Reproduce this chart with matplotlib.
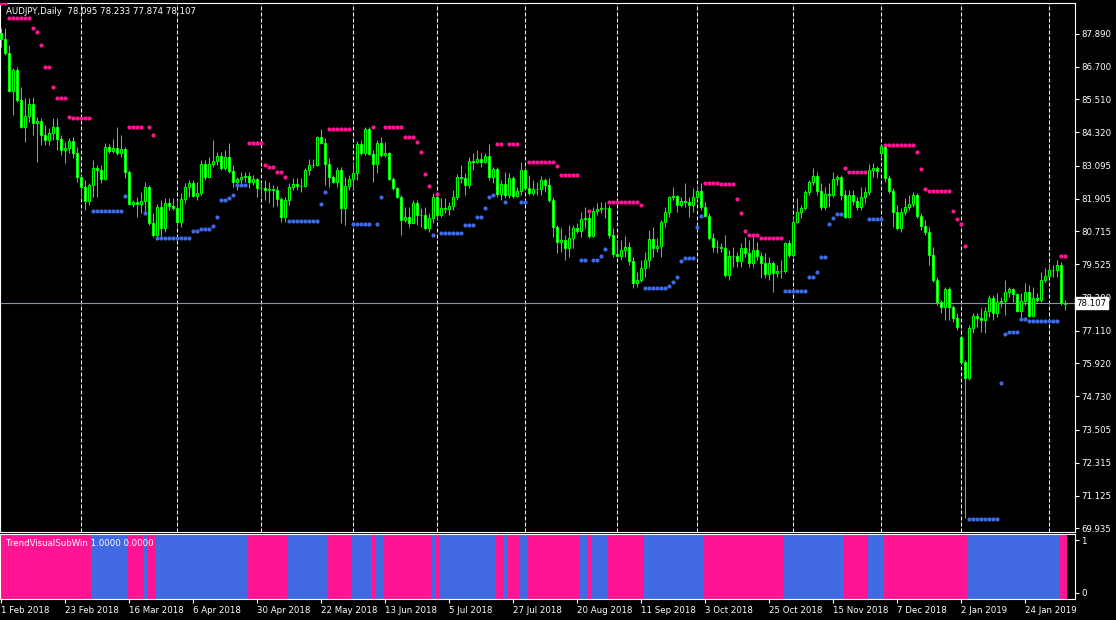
import numpy as np
import matplotlib
matplotlib.use("Agg")
import matplotlib.pyplot as plt

# AUDJPY daily, Feb 2018 - Feb 2019
TITLE = "AUDJPY,Daily  78.095 78.233 77.874 78.107"
SUBWIN_TITLE = "TrendVisualSubWin 1.0000 0.0000"

first_open = 87.92
close = [
    87.70, 87.20, 85.82, 86.58, 85.49, 84.51, 84.91, 85.35, 84.66, 84.73,
    84.22, 84.04, 84.29, 84.51, 84.07, 83.67, 83.75, 84.00, 83.57, 82.70,
    82.33, 81.82, 82.40, 83.02, 82.95, 82.62, 83.78, 83.64, 83.75, 83.57,
    83.71, 82.88, 81.71, 81.79, 81.71, 81.82, 82.33, 81.03, 80.59, 81.61,
    80.84, 81.75, 81.64, 81.57, 81.06, 81.90, 82.33, 82.48, 82.01, 82.11,
    83.17, 82.70, 83.17, 83.28, 83.46, 83.02, 83.42, 82.91, 82.51, 82.62,
    82.70, 82.73, 82.51, 82.62, 82.30, 82.29, 82.22, 82.26, 82.22, 81.90,
    81.24, 81.86, 82.33, 82.44, 82.37, 82.36, 82.95, 83.13, 83.12, 84.15,
    83.93, 83.17, 82.70, 82.51, 82.95, 81.57, 82.37, 82.62, 82.84, 83.89,
    83.57, 84.44, 83.53, 83.17, 83.93, 83.49, 83.57, 82.62, 82.30, 81.97,
    81.13, 81.24, 81.03, 81.75, 81.32, 81.31, 80.84, 81.21, 81.97, 81.32,
    81.57, 81.53, 81.64, 81.97, 82.70, 82.66, 82.40, 83.28, 83.24, 83.35,
    83.24, 83.46, 82.70, 82.99, 82.08, 82.44, 82.04, 82.66, 82.01, 82.19,
    82.95, 82.30, 82.11, 82.26, 82.25, 82.59, 82.40, 81.86, 80.88, 80.34,
    80.41, 80.12, 80.48, 80.84, 80.73, 81.17, 81.21, 80.55, 81.46, 81.53,
    81.57, 81.56, 80.59, 79.90, 79.83, 80.04, 80.15, 79.65, 78.85, 78.96,
    79.39, 79.68, 80.44, 80.12, 80.19, 81.06, 81.42, 81.97, 82.01, 81.68,
    81.82, 81.79, 81.68, 81.97, 82.19, 81.61, 81.28, 80.48, 80.15, 80.14,
    80.12, 79.14, 79.83, 79.82, 79.65, 80.12, 79.94, 79.57, 80.04, 79.83,
    79.57, 79.17, 79.57, 79.21, 79.28, 79.27, 80.30, 79.86, 81.06, 81.42,
    81.57, 82.15, 82.51, 82.73, 82.19, 81.61, 82.08, 82.04, 82.62, 82.70,
    82.04, 81.24, 82.04, 81.82, 81.61, 81.97, 82.15, 82.95, 83.02, 82.91,
    83.82, 82.66, 82.19, 81.42, 80.84, 81.42, 81.61, 81.71, 82.04, 81.28,
    80.92, 80.70, 79.86, 78.96, 78.16, 77.98, 78.63, 77.98, 77.58, 77.25,
    75.98, 75.40, 77.21, 77.65, 77.58, 77.50, 77.83, 78.30, 77.76, 78.16,
    78.19, 78.52, 78.63, 78.45, 77.83, 78.19, 78.52, 77.65, 78.30, 78.23,
    78.96, 79.10, 79.32, 79.31, 79.50, 78.10, 78.107,
]
high = [
    88.10, 88.10, 87.49, 86.65, 86.69, 85.96, 85.56, 85.56, 85.60, 84.87,
    84.84, 84.58, 84.47, 84.84, 84.84, 84.22, 83.97, 84.11, 84.15, 83.78,
    82.77, 82.59, 82.48, 83.31, 83.13, 83.13, 83.93, 83.89, 84.07, 84.51,
    84.22, 83.78, 82.95, 81.86, 81.97, 82.15, 82.51, 82.40, 81.39, 81.71,
    81.86, 81.93, 81.93, 81.93, 81.86, 82.11, 82.48, 82.59, 82.59, 82.51,
    83.31, 83.31, 83.42, 84.04, 83.60, 83.60, 83.67, 83.93, 83.13, 82.70,
    82.88, 82.88, 82.88, 82.77, 82.66, 82.51, 82.59, 82.51, 82.40, 82.37,
    81.97, 81.97, 82.48, 82.66, 82.66, 82.66, 83.02, 83.35, 83.35, 84.18,
    84.44, 84.11, 83.38, 82.77, 83.06, 83.06, 82.70, 82.77, 83.24, 84.00,
    84.04, 84.51, 84.51, 83.67, 84.04, 84.15, 83.97, 83.60, 82.70, 82.33,
    82.04, 81.61, 81.61, 81.86, 81.86, 81.57, 81.61, 81.39, 82.11, 82.04,
    81.93, 81.93, 81.79, 82.22, 82.80, 83.13, 82.84, 83.42, 83.57, 83.67,
    83.57, 83.57, 83.89, 83.06, 83.06, 82.59, 82.88, 82.84, 82.73, 82.33,
    83.24, 83.06, 82.77, 82.59, 82.51, 82.73, 82.66, 82.66, 81.97, 80.95,
    80.84, 80.59, 80.95, 80.95, 81.03, 81.42, 81.61, 81.39, 81.61, 81.75,
    81.79, 81.79, 81.68, 80.84, 80.41, 80.41, 80.55, 80.34, 79.79, 79.25,
    79.68, 79.97, 80.77, 80.88, 80.48, 81.13, 81.61, 82.01, 82.33, 82.04,
    81.97, 82.48, 81.97, 82.30, 82.37, 82.48, 81.79, 81.39, 80.66, 80.41,
    80.30, 80.59, 80.04, 80.15, 79.97, 80.30, 80.52, 80.41, 80.52, 80.34,
    79.97, 79.94, 79.79, 79.65, 79.50, 79.68, 80.34, 80.41, 81.24, 81.93,
    81.68, 82.22, 82.59, 83.02, 82.88, 82.48, 82.33, 82.48, 82.88, 82.77,
    82.77, 82.22, 82.22, 82.22, 81.97, 82.33, 82.33, 83.17, 83.20, 83.09,
    83.86, 83.86, 82.77, 82.30, 81.68, 81.57, 81.93, 82.04, 82.15, 82.11,
    81.39, 81.13, 80.88, 80.15, 79.07, 78.23, 78.70, 78.70, 78.05, 77.76,
    76.96, 76.05, 77.32, 77.76, 77.76, 77.94, 77.98, 78.41, 78.41, 78.48,
    78.34, 78.96, 78.70, 78.67, 78.48, 78.48, 78.85, 78.77, 78.70, 78.48,
    79.25, 79.39, 79.57, 79.50, 79.68, 79.61, 78.233,
]
low = [
    87.41, 87.12, 85.78, 84.95, 85.42, 84.47, 83.97, 84.69, 84.22, 83.24,
    83.86, 83.86, 83.86, 84.04, 83.67, 83.49, 83.20, 83.57, 83.38, 82.51,
    81.97, 81.50, 81.68, 81.97, 81.97, 82.48, 82.59, 83.57, 83.57, 83.49,
    83.42, 82.66, 81.68, 81.61, 81.24, 81.39, 81.42, 80.95, 80.52, 80.52,
    80.52, 80.70, 81.50, 81.50, 80.88, 80.88, 81.75, 81.97, 81.97, 81.86,
    82.04, 82.59, 82.66, 83.06, 83.13, 82.95, 82.95, 82.84, 82.33, 82.22,
    82.40, 82.51, 82.30, 82.40, 81.97, 81.97, 81.86, 81.75, 81.61, 81.64,
    81.06, 81.06, 81.68, 82.22, 82.22, 82.15, 82.33, 82.77, 83.02, 83.09,
    83.89, 82.40, 82.33, 82.48, 82.33, 81.03, 80.95, 82.22, 82.22, 82.59,
    83.49, 83.49, 83.49, 82.51, 82.84, 83.42, 83.42, 82.59, 82.22, 81.93,
    80.59, 81.06, 80.88, 81.03, 80.95, 80.88, 80.77, 80.70, 81.03, 81.13,
    81.24, 81.39, 81.32, 81.50, 81.86, 82.48, 82.04, 82.30, 82.95, 83.20,
    83.06, 83.20, 82.59, 82.48, 81.97, 81.86, 81.93, 81.93, 81.93, 81.97,
    82.04, 82.22, 82.04, 82.04, 82.04, 82.04, 82.15, 81.79, 80.52, 79.94,
    79.97, 79.68, 79.79, 80.12, 80.66, 80.52, 80.84, 80.48, 80.52, 81.32,
    81.39, 81.21, 80.48, 79.77, 79.77, 79.68, 79.79, 79.50, 78.67, 78.70,
    78.88, 79.07, 79.43, 79.79, 79.97, 79.77, 80.88, 81.24, 81.86, 81.42,
    81.61, 81.61, 81.24, 81.42, 81.86, 81.50, 81.24, 80.41, 79.97, 79.94,
    79.97, 79.07, 78.96, 79.43, 79.43, 79.43, 79.79, 79.43, 79.43, 79.68,
    79.03, 79.03, 78.96, 78.52, 79.07, 79.03, 79.21, 79.79, 79.79, 81.03,
    81.21, 81.50, 82.04, 82.40, 82.04, 81.50, 81.50, 81.61, 81.97, 82.40,
    81.86, 81.21, 81.21, 81.68, 81.50, 81.50, 81.75, 82.04, 82.70, 82.66,
    83.38, 82.51, 82.11, 80.88, 80.77, 80.70, 81.32, 81.50, 81.61, 81.21,
    80.77, 80.59, 79.50, 78.88, 78.05, 77.76, 77.50, 77.50, 77.43, 77.14,
    75.94, 70.32, 75.33, 77.03, 77.25, 77.07, 77.03, 77.61, 77.50, 77.61,
    77.98, 77.69, 78.34, 78.16, 77.79, 77.61, 78.05, 77.61, 77.61, 78.16,
    78.16, 78.88, 79.07, 79.07, 79.07, 78.05, 77.874,
]
# bars whose open is not the previous close (weekend gaps)
gap_open = {220: 83.57, 240: 76.89, 266: 78.095}

sar = [
    89.01, 89.01, 88.47, 88.47, 88.47, 88.47, 88.47, 88.47, 88.10, 87.96,
    87.49, 86.69, 86.69, 85.96, 85.56, 85.56, 85.56, 84.87, 84.84, 84.84,
    84.84, 84.84, 84.84, 81.46, 81.46, 81.46, 81.46, 81.46, 81.46, 81.46,
    81.46, 82.01, 84.51, 84.51, 84.51, 84.51, 81.39, 84.51, 84.22, 80.48,
    80.48, 80.48, 80.48, 80.48, 80.48, 80.48, 80.48, 80.48, 80.73, 80.73,
    80.81, 80.81, 80.81, 80.92, 81.24, 81.86, 81.86, 81.93, 82.04, 82.40,
    82.40, 82.40, 83.93, 83.93, 83.93, 83.93, 83.13, 83.06, 83.06, 82.88,
    82.88, 82.70, 81.10, 81.10, 81.10, 81.10, 81.10, 81.10, 81.10, 81.10,
    81.71, 82.15, 84.44, 84.44, 84.44, 84.44, 84.44, 84.44, 80.99, 80.99,
    80.99, 80.99, 80.99, 84.51, 80.99, 81.97, 84.51, 84.51, 84.51, 84.51,
    84.51, 84.15, 84.15, 84.15, 83.97, 83.60, 82.80, 82.37, 80.59, 82.08,
    80.66, 80.66, 80.66, 80.66, 80.66, 80.66, 80.95, 80.95, 80.95, 81.24,
    81.24, 81.57, 81.97, 82.04, 83.89, 83.89, 81.79, 83.89, 83.89, 83.89,
    81.79, 81.79, 83.24, 83.24, 83.24, 83.24, 83.24, 83.24, 83.24, 83.09,
    82.77, 82.77, 82.77, 82.77, 82.77, 79.68, 79.68, 81.46, 79.68, 79.68,
    79.83, 80.08, 81.79, 81.79, 81.79, 81.79, 81.79, 81.79, 81.79, 81.79,
    81.68, 78.67, 78.67, 78.67, 78.67, 78.67, 78.67, 78.74, 78.88, 79.07,
    79.65, 79.75, 79.75, 79.75, 80.88, 81.28, 82.48, 82.48, 82.48, 82.48,
    82.44, 82.44, 82.44, 82.44, 81.90, 81.39, 80.73, 80.59, 80.59, 80.59,
    80.48, 80.48, 80.48, 80.48, 80.48, 80.48, 78.56, 78.56, 78.56, 78.56,
    78.56, 78.56, 79.07, 79.07, 79.25, 79.79, 79.79, 80.99, 81.21, 81.35,
    81.35, 83.02, 82.88, 82.88, 82.88, 82.88, 82.88, 81.17, 81.17, 81.17,
    81.17, 83.86, 83.86, 83.86, 83.86, 83.86, 83.86, 83.86, 83.86, 83.60,
    82.99, 82.26, 82.19, 82.19, 82.19, 82.19, 82.19, 82.19, 81.46, 81.17,
    80.99, 80.19, 70.28, 70.28, 70.28, 70.28, 70.28, 70.28, 70.28, 70.28,
    75.22, 76.99, 77.07, 77.07, 77.07, 77.54, 77.54, 77.47, 77.47, 77.47,
    77.47, 77.47, 77.47, 77.47, 77.47, 79.83, 79.83,
]

price_ticks = [87.890, 86.700, 85.510, 84.320, 83.095, 81.905, 80.715, 79.525,
               78.300, 77.110, 75.920, 74.730, 73.505, 72.315, 71.125, 69.935]
date_labels = ["1 Feb 2018", "23 Feb 2018", "16 Mar 2018", "6 Apr 2018",
               "30 Apr 2018", "22 May 2018", "13 Jun 2018", "5 Jul 2018",
               "27 Jul 2018", "20 Aug 2018", "11 Sep 2018", "3 Oct 2018",
               "25 Oct 2018", "15 Nov 2018", "7 Dec 2018", "2 Jan 2019",
               "24 Jan 2019"]
# bar index of the first bar of each month (MT4 period separators)
month_start_bars = [20, 44, 65, 88, 109, 131, 154, 174, 198, 220, 240, 262]
last_price = 78.107

LIME = "#00ff00"
PINK = "#ff1493"
BLUE = "#4169e1"
FG = "white"

plt.rcParams["font.family"] = ["DejaVu Sans"]
plt.rcParams["font.size"] = 6.2

W, H = 1116, 620
fig = plt.figure(figsize=(W / 100, H / 100), dpi=100, facecolor="black")


def px_axes(x0, y0, x1, y1):
    return fig.add_axes([x0 / W, 1 - y1 / H, (x1 - x0) / W, (y1 - y0) / H])


ax = px_axes(0, 3, 1075, 532)
ax2 = px_axes(0, 534, 1075, 599)

n = len(close)
x = np.arange(n)
opens = [first_open] + close[:-1]
for i, v in gap_open.items():
    opens[i] = v
o = np.array(opens)
c = np.array(close)
h = np.maximum(np.array(high), np.maximum(o, c))
l = np.minimum(np.array(low), np.minimum(o, c))

xlim = (-0.25, 268.5)
for a in (ax, ax2):
    a.set_facecolor("black")
    a.set_xlim(*xlim)
    for s in a.spines.values():
        s.set_color(FG)
        s.set_linewidth(0.8)

ax.set_ylim(69.80, 89.01)

# month separators
for b in month_start_bars:
    ax.axvline(b, color=FG, lw=0.75, linestyle=(0, (3.84, 1.92)), zorder=1)

# candles
ax.vlines(x, l, h, color=LIME, lw=0.75, zorder=2)
bear = c < o
body_fill = np.where(bear, "white", "black")
ax.bar(x, np.abs(c - o), bottom=np.minimum(o, c), width=0.55,
       color=body_fill, edgecolor=LIME, linewidth=0.75, zorder=3)

# parabolic dots
sar_a = np.array(sar)
up = sar_a < c
ax.scatter(x[up], sar_a[up], s=9, color=BLUE, linewidths=0, zorder=4)
ax.scatter(x[~up], sar_a[~up], s=9, color=PINK, linewidths=0, zorder=4)

# bid line + price box
ax.axhline(last_price, color="#8a96a8", lw=0.8, zorder=1)

ax.yaxis.tick_right()
ax.set_yticks(price_ticks)
ax.set_yticklabels([f"{t:.3f}" for t in price_ticks])
ax.tick_params(axis="y", colors=FG, length=3, width=0.8, pad=1.5, labelsize=6.2)
ax.set_xticks([])
ax.text(1.0015, last_price, f"{last_price:.3f}", transform=ax.get_yaxis_transform(),
        ha="left", va="center", color="black", fontsize=6.2, zorder=10,
        clip_on=False,
        bbox=dict(boxstyle="square,pad=0.15", fc="white", ec="white"))

fig.text(6 / W, 1 - 11 / H, TITLE, color=FG, fontsize=6.2, va="center", ha="left")

# trend sub window
trend_col = np.where(up, BLUE, PINK)
ax2.set_ylim(-0.115, 1.115)
ax2.bar(x, 1.23, bottom=-0.115, width=1.0, color=trend_col, linewidth=0, zorder=1)
ax2.yaxis.tick_right()
ax2.set_yticks([0, 1])
ax2.set_yticklabels(["0", "1"])
ax2.tick_params(axis="y", colors=FG, length=3, width=0.8, pad=1.5, labelsize=6.2)
ax2.set_xticks(np.arange(len(date_labels)) * 16)
ax2.set_xticklabels(date_labels)
ax2.tick_params(axis="x", colors=FG, length=3, width=0.8, pad=2, labelsize=6.2)
for lbl in ax2.get_xticklabels():
    lbl.set_ha("left")
ax2.text(6 / 1075, 0.86, SUBWIN_TITLE, transform=ax2.transAxes, color=FG,
         fontsize=6.2, va="center", ha="left", zorder=5)

fig.savefig("out.png", dpi=100, facecolor="black")
